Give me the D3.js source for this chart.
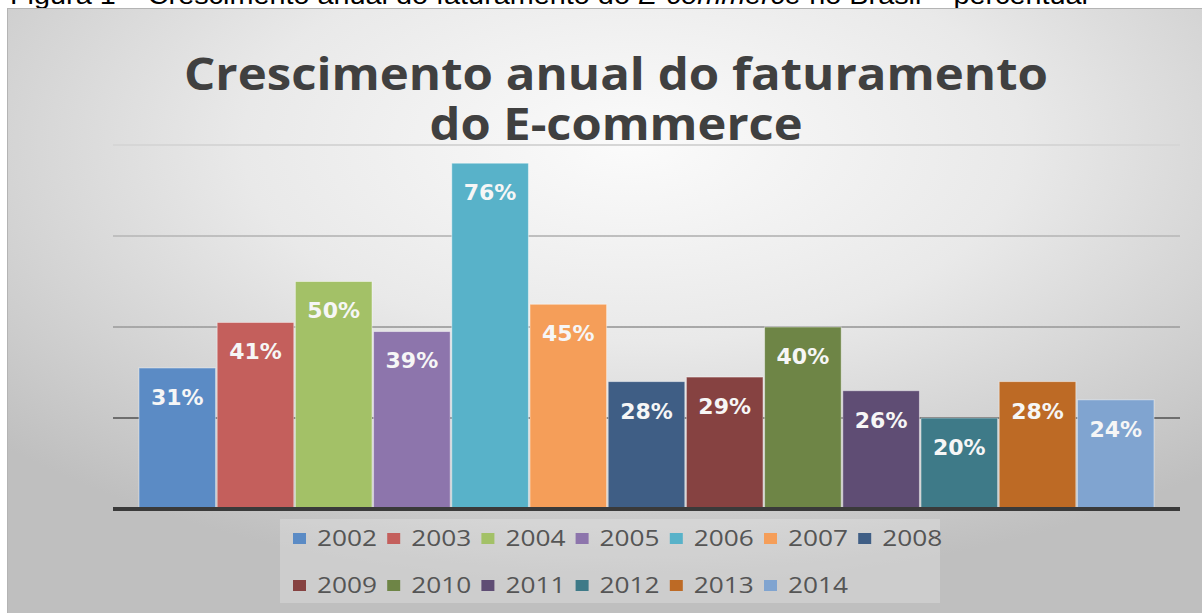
<!DOCTYPE html>
<html>
<head>
<meta charset="utf-8">
<script src="https://cdn.jsdelivr.net/npm/d3@7"></script>
<style>
    body { margin: 0; background: #ffffff; }
    #chart { width: 1202px; height: 613px; }
</style>
</head>
<body>
<div id="chart"></div>
<script>
// chart data
const years = ["2002", "2003", "2004", "2005", "2006", "2007", "2008",
    "2009", "2010", "2011", "2012", "2013", "2014"];
const growth = [31, 41, 50, 39, 76, 45, 28, 29, 40, 26, 20, 28, 24];
const gridTicks = [20, 40, 60, 80];
const titleLines = ["Crescimento anual do faturamento", "do E-commerce"];
const captionParts = ["Figura 1 – Crescimento anual do faturamento do ", "E-commerce", " no Brasil – percentual"];

// bar colours (office palette)
const palette = ["#5b8bc5", "#c45f5c", "#a3c167", "#8d75ac", "#58b2c9", "#f59e59", "#3f5e85",
    "#864241", "#6e8546", "#5f4d74", "#3e7a88", "#bd6a25", "#80a4d0"];

function createChart(containerId) {
    const container = document.getElementById(containerId);
    const W = 1202, H = 613;

    // plot area
    const plot = { left: 113, right: 1180, top: 145, bottom: 509 };

    const svg = d3.create("svg")
        .attr("width", W)
        .attr("height", H);

    const defs = svg.append("defs");

    // background gradient of the chart box
    const bg = defs.append("radialGradient")
        .attr("id", "bg")
        .attr("cx", "52%").attr("cy", "22%").attr("r", "72%");
    bg.append("stop").attr("offset", "0%").attr("stop-color", "#fbfbfb");
    bg.append("stop").attr("offset", "45%").attr("stop-color", "#e9e9e9");
    bg.append("stop").attr("offset", "100%").attr("stop-color", "#bfbfbf");

    // gridlines fade towards the top
    const gridGrad = defs.append("linearGradient")
        .attr("id", "gridGrad")
        .attr("gradientUnits", "userSpaceOnUse")
        .attr("x1", 0).attr("x2", 0)
        .attr("y1", plot.top).attr("y2", plot.bottom);
    gridGrad.append("stop").attr("offset", "0%").attr("stop-color", "#d6d6d6");
    gridGrad.append("stop").attr("offset", "50%").attr("stop-color", "#a8a8a8");
    gridGrad.append("stop").attr("offset", "75%").attr("stop-color", "#6e6e6e");
    gridGrad.append("stop").attr("offset", "100%").attr("stop-color", "#555555");

    // caption above the chart (mostly cropped)
    const caption = svg.append("text")
        .attr("x", 10)
        .attr("y", 4)
        .attr("font-family", "Liberation Sans, Arial, sans-serif")
        .attr("font-size", 25)
        .attr("fill", "#000")
        .attr("textLength", 1078)
        .attr("lengthAdjust", "spacingAndGlyphs");
    caption.selectAll("tspan")
        .data(captionParts)
        .join("tspan")
        .attr("font-style", (d, i) => i === 1 ? "italic" : "normal")
        .text(d => d);

    // chart box
    svg.append("rect")
        .attr("x", 7.5)
        .attr("y", 8.5)
        .attr("width", W)
        .attr("height", H)
        .attr("fill", "url(#bg)")
        .attr("stroke", "#b4b4b4")
        .attr("stroke-width", 1);

    // scales
    const x = d3.scaleBand()
        .domain(years)
        .range([plot.left, plot.right])
        .paddingInner(0.02)
        .paddingOuter(0.332);

    const y = d3.scaleLinear()
        .domain([0, 80])
        .range([plot.bottom, plot.top]);

    const color = d3.scaleOrdinal()
        .domain(years)
        .range(palette);

    // title
    svg.append("g")
        .selectAll("text")
        .data(titleLines)
        .join("text")
        .attr("x", 616)
        .attr("y", (d, i) => 90 + i * 50)
        .attr("text-anchor", "middle")
        .attr("font-family", "Open Sans, Calibri, sans-serif")
        .attr("font-weight", "bold")
        .attr("font-size", 45)
        .attr("fill", "#404040")
        .attr("textLength", (d, i) => i === 0 ? 864 : 373)
        .attr("lengthAdjust", "spacingAndGlyphs")
        .text(d => d);

    // gridlines
    svg.append("g")
        .selectAll("line")
        .data(gridTicks)
        .join("line")
        .attr("x1", plot.left)
        .attr("x2", plot.right)
        .attr("y1", d => y(d))
        .attr("y2", d => y(d))
        .attr("stroke", "url(#gridGrad)")
        .attr("stroke-width", 2);

    // bars
    svg.append("g")
        .selectAll("rect")
        .data(growth)
        .join("rect")
        .attr("x", (d, i) => x(years[i]))
        .attr("y", d => y(d))
        .attr("width", x.bandwidth())
        .attr("height", d => y(0) - y(d))
        .attr("fill", (d, i) => color(years[i]))
        .attr("stroke", "rgba(255,255,255,0.45)")
        .attr("stroke-width", 1);

    // value labels inside the bar tops
    svg.append("g")
        .selectAll("text")
        .data(growth)
        .join("text")
        .attr("x", (d, i) => x(years[i]) + x.bandwidth() / 2)
        .attr("y", d => y(d) + 29)
        .attr("dy", "0.36em")
        .attr("text-anchor", "middle")
        .attr("font-family", "DejaVu Sans, Verdana, sans-serif")
        .attr("font-weight", "bold")
        .attr("font-size", 22)
        .attr("fill", "#f6f6f6")
        .text(d => d + "%");

    // baseline axis
    svg.append("g")
        .attr("transform", `translate(0,${plot.bottom})`)
        .call(d3.axisBottom(x).tickSize(0).tickFormat(""))
        .call(g => g.select(".domain")
            .attr("d", `M${plot.left},0H${plot.right}`)
            .attr("stroke", "#3a3a3a")
            .attr("stroke-width", 4));

    // legend
    const legend = svg.append("g");
    legend.append("rect")
        .attr("x", 280)
        .attr("y", 519)
        .attr("width", 660)
        .attr("height", 84)
        .attr("fill", "#ffffff")
        .attr("opacity", 0.22);

    const perRow = 7;
    const items = legend.selectAll("g.item")
        .data(years)
        .join("g")
        .attr("class", "item")
        .attr("transform", (d, i) =>
            `translate(${293 + (i % perRow) * 94.2},${i < perRow ? 538 : 585})`);

    items.append("rect")
        .attr("x", 0)
        .attr("y", -5)
        .attr("width", 13)
        .attr("height", 11)
        .attr("fill", d => color(d));

    items.append("text")
        .attr("x", 24)
        .attr("y", 0)
        .attr("dy", "0.36em")
        .attr("font-family", "Open Sans, Calibri, sans-serif")
        .attr("font-size", 22)
        .attr("fill", "#555555")
        .attr("textLength", 60)
        .attr("lengthAdjust", "spacingAndGlyphs")
        .text(d => d);

    container.appendChild(svg.node());
}

createChart("chart");
</script>
</body>
</html>
